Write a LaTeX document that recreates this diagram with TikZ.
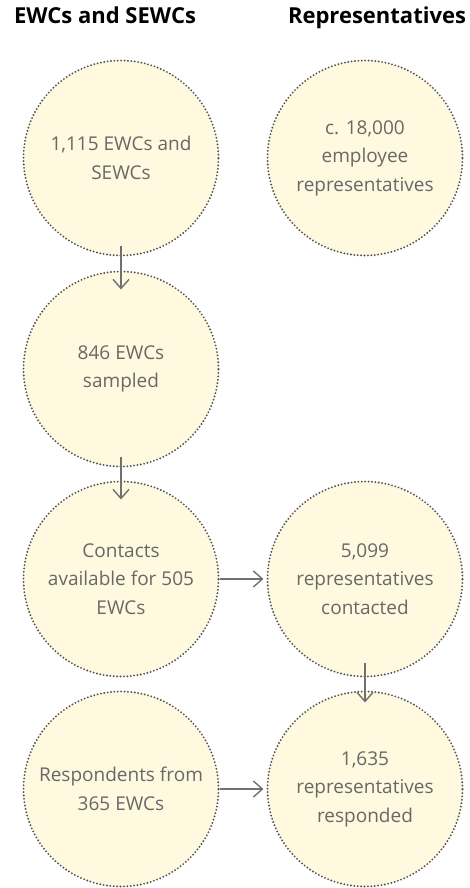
\documentclass[tikz,border=0pt]{standalone}
\usepackage{fontspec}
\setmainfont{Open Sans}
\usetikzlibrary{arrows.meta}
\definecolor{circfill}{HTML}{FEF9DF}
\definecolor{circline}{HTML}{555555}
\definecolor{txtgray}{HTML}{686868}
\definecolor{arrgray}{HTML}{707070}
\tikzset{
  bubble/.style={circle, minimum size=195pt, inner sep=0pt, fill=circfill,
    draw=circline, line width=2.1pt, line cap=round, dash pattern=on 0pt off 3.4pt,
    text=txtgray, align=center, font=\fontsize{19}{28.5}\selectfont},
  heading/.style={font=\fontsize{22}{24}\selectfont\bfseries, text=black, anchor=base},
  arr/.style={draw=arrgray, line width=1.4pt, -{Straight Barb[length=9pt,width=16pt]}}
}
\begin{document}
\begin{tikzpicture}[x=1pt,y=-1pt]
\useasboundingbox (0,0) rectangle (469,888);
\node[heading] (h1) at (105,24) {EWCs and SEWCs};
\node[heading] (h2) at (377,24) {Representatives};
\node[bubble] (a1) at (121,158) {1,115 EWCs and\\SEWCs};
\node[bubble] (b1) at (365,158) {c. 18,000\\employee\\representatives};
\node[bubble] (a2) at (121,369) {846 EWCs\\sampled};
\node[bubble] (a3) at (121,579) {Contacts\\available for 505\\EWCs};
\node[bubble] (b3) at (365,579) {5,099\\representatives\\contacted};
\node[bubble] (a4) at (121,789) {Respondents from\\365 EWCs};
\node[bubble] (b4) at (365,789) {1,635\\representatives\\responded};
\draw[arr] ([yshift=11pt]a1.south) -- ([yshift=-19pt]a2.north);
\draw[arr] ([yshift=11pt]a2.south) -- ([yshift=-19pt]a3.north);
\draw[arr] (a3.east) -- ([xshift=-3pt]b3.west);
\draw[arr] ([yshift=15pt]b3.south) -- ([yshift=-12pt]b4.north);
\draw[arr] (a4.east) -- ([xshift=-3pt]b4.west);
\end{tikzpicture}
\end{document}
